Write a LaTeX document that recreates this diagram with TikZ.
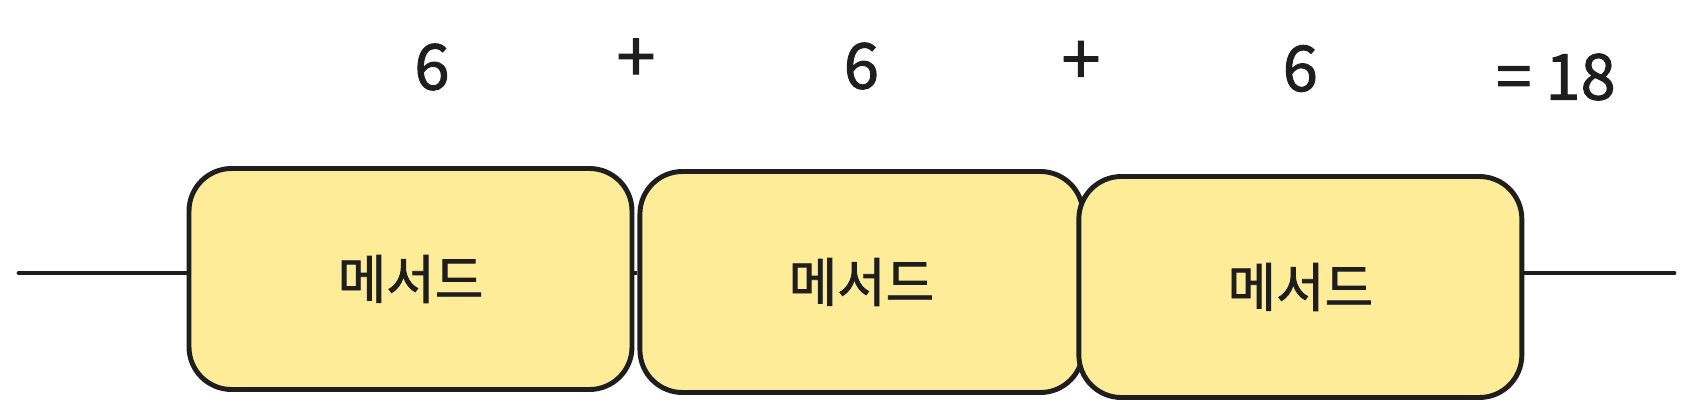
\documentclass[tikz,border=0pt]{standalone}
\usepackage{fontspec}
\newfontfamily\krfont[FakeBold=1.5]{Noto Sans CJK KR}
\usetikzlibrary{positioning}
\usetikzlibrary{calc}
\definecolor{stift}{HTML}{1E1E1E}
\definecolor{gelb}{HTML}{FFEC99}

\begin{document}
\begin{tikzpicture}[text centered,
        methodbox/.style={draw=stift, fill=gelb, line width=2.8pt, rounded corners=0.85cm,
            minimum width=8.86cm, minimum height=4.42cm, text=stift,
            font=\krfont\fontsize{30}{34}\selectfont},
        numlabel/.style={text=stift, font=\krfont\fontsize{36}{40}\selectfont},
        oplabel/.style={text=stift, font=\krfont\fontsize{40}{44}\selectfont}]
        \useasboundingbox (0,0) rectangle (33.86,-8.34);

        \node[methodbox] (m1) at (8.21,-5.58) {메서드};
        \node[methodbox, right = 0.06cm of m1, yshift=-0.06cm] (m2) {메서드};
        \node[methodbox, right = -0.18cm of m2, yshift=-0.1cm] (m3) {메서드};

        \node[numlabel] (n1) at (8.64,-1.34) {6};
        \node[numlabel] (n2) at ($(m2.north)+(0,2.06)$) {6};
        \node[numlabel] (n3) at ($(m3.north)+(0,2.11)$) {6};

        \coordinate (p1) at ($(m1.east)!0.5!(m2.west)+(0,4.4)$);
        \coordinate (p2) at ($(m2.east)!0.5!(m3.west)+(0,4.43)$);
        \node[oplabel] (plus1) at (p1) {+};
        \node[oplabel] (plus2) at (p2) {+};
        \node[numlabel] (sum) at (31.12,-1.54) {= 18};

        \coordinate (start) at (0.38,-5.46);
        \coordinate (end) at (33.48,-5.46);

        \draw[stift, line width=2.8pt, line cap=round] (start) -- (start -| m1.west);
        \draw[stift, line width=2.8pt] (m1.east |- start) -- (m2.west |- start);
        \draw[stift, line width=2.8pt, line cap=round] (m3.east |- start) -- (end);
    \end{tikzpicture}
\end{document}
